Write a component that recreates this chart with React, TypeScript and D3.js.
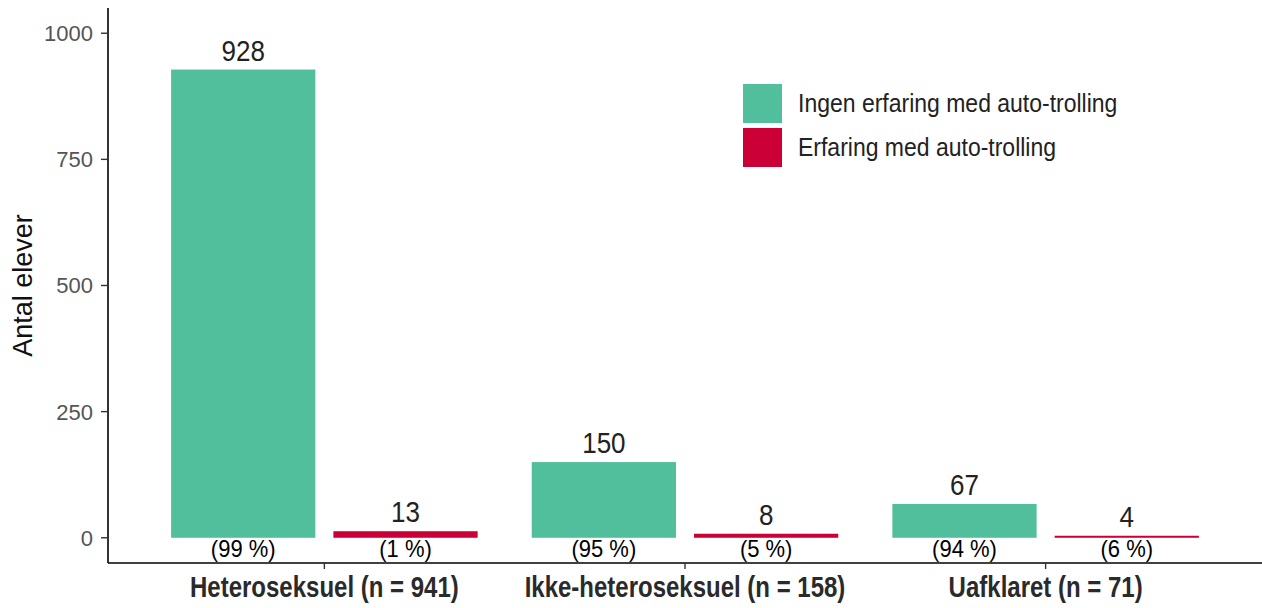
import React from 'react'
import * as d3 from 'd3'

const categories = ['Heteroseksuel (n = 941)', 'Ikke-heteroseksuel (n = 158)', 'Uafklaret (n = 71)']
const seriesNames = ['Ingen erfaring med auto-trolling', 'Erfaring med auto-trolling']
const seriesColors = ['#51be9c', '#cb0036']
const noExperience = [928, 150, 67]
const withExperience = [13, 8, 4]
const pctNo = ['(99 %)', '(95 %)', '(94 %)']
const pctWith = ['(1 %)', '(5 %)', '(6 %)']
const yTicks = [0, 250, 500, 750, 1000]

const W = 1262
const H = 608
const left = 108
const right = 1262
const top = 8
const bottom = 563
const font = 'Liberation Sans, Arial, sans-serif'

const App: React.FC = () => {
  const x = d3.scaleBand<string>().domain(categories).range([left, right]).paddingInner(0).paddingOuter(0.1)
  const y = d3.scaleLinear().domain([-50, 1050]).range([bottom, top])
  const step = x.bandwidth()
  // dodge slots (ggplot-like: dodge width 0.9, bar width 0.8)
  const xs = d3.scaleBand<string>().domain(seriesNames).range([0.05 * step, 0.95 * step])
  const barW = step * 0.4

  const values = [noExperience, withExperience]
  const pcts = [pctNo, pctWith]

  const bars = categories.flatMap((c, ci) =>
    seriesNames.map((s, si) => {
      const cx = (x(c) || 0) + (xs(s) || 0) + xs.bandwidth() / 2
      return { c, s, si, cx, v: values[si][ci], pct: pcts[si][ci] }
    })
  )

  return (
    <svg width={W} height={H} style={{ position: 'absolute', left: 0, top: 0, background: '#fff' }} fontFamily={font}>
      {/* bars */}
      {bars.map((b, i) => (
        <rect key={'b' + i} x={b.cx - barW / 2} width={barW} y={y(b.v)} height={y(0) - y(b.v)} fill={seriesColors[b.si]} />
      ))}

      {/* value labels */}
      {bars.map((b, i) => (
        <text key={'v' + i} transform={`translate(${b.cx}, ${y(b.v) - 9}) scale(1, 1.1)`} textAnchor="middle" fontSize={26} fill="#222">{b.v}</text>
      ))}

      {/* percent labels */}
      {bars.map((b, i) => (
        <text key={'p' + i} transform={`translate(${b.cx}, ${y(0) + 19}) scale(1, 1.08)`} textAnchor="middle" fontSize={22} fill="#000">{b.pct}</text>
      ))}

      {/* y axis */}
      <line x1={left} x2={left} y1={top} y2={bottom} stroke="#000" strokeWidth={1.6} />
      {yTicks.map(t => (
        <g key={'yt' + t}>
          <line x1={left - 7} x2={left} y1={y(t)} y2={y(t)} stroke="#333" strokeWidth={1.4} />
          <text x={left - 15} y={y(t)} dy="0.36em" textAnchor="end" fontSize={22} fill="#555">{t}</text>
        </g>
      ))}
      <text transform={`translate(32, ${(top + bottom) / 2}) rotate(-90)`} textAnchor="middle" fontSize={27} fill="#111">Antal elever</text>

      {/* x axis */}
      <line x1={left} x2={right} y1={bottom} y2={bottom} stroke="#000" strokeWidth={1.6} />
      {categories.map(c => {
        const cx = (x(c) || 0) + step / 2
        return (
          <g key={'xt' + c}>
            <line x1={cx} x2={cx} y1={bottom} y2={bottom + 6} stroke="#333" strokeWidth={1.4} />
            <text transform={`translate(${cx}, 597) scale(1, 1.2)`} textAnchor="middle" fontSize={24} fontWeight="bold" fill="#2a2a2a">{c}</text>
          </g>
        )
      })}

      {/* legend */}
      {seriesNames.map((s, i) => (
        <g key={'lg' + s} transform={`translate(743, ${84 + i * 44})`}>
          <rect width={39} height={39} fill={seriesColors[i]} />
          <text transform="translate(55, 28) scale(1, 1.15)" fontSize={23} fill="#222">{s}</text>
        </g>
      ))}
    </svg>
  )
}

export default App
